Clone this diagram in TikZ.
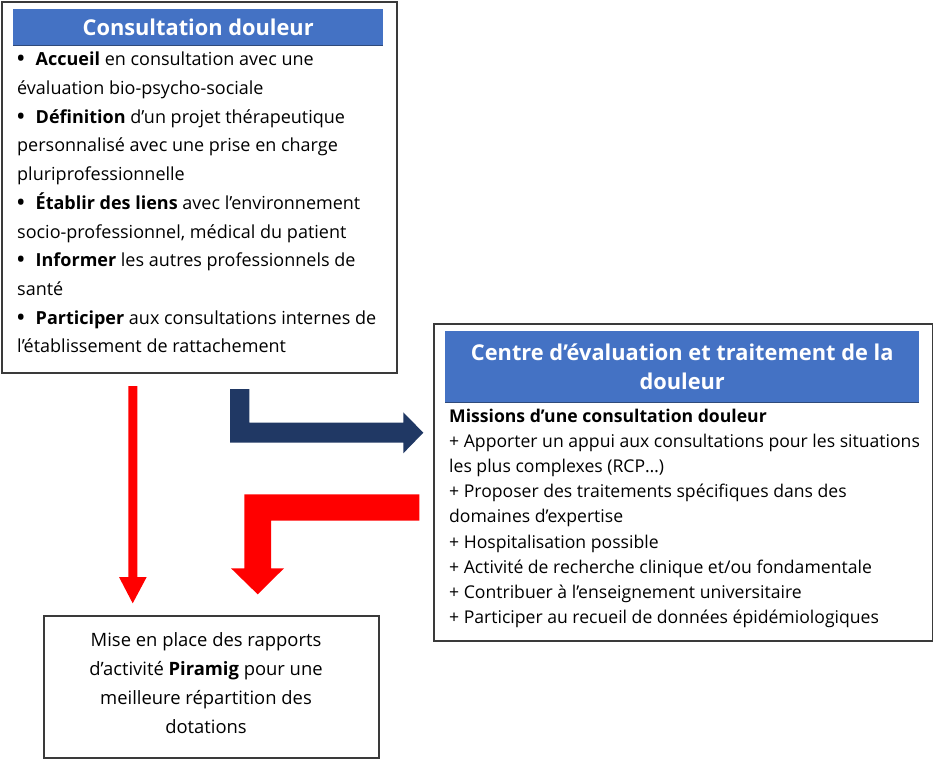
\documentclass[tikz,border=0pt]{standalone}
\usepackage{fontspec}
\setmainfont{Open Sans}
\definecolor{hdrblue}{HTML}{4472C4}
\definecolor{hdredge}{HTML}{2F4A7A}
\definecolor{navyarrow}{HTML}{203864}
\definecolor{boxgray}{HTML}{3A3A3A}
\definecolor{redarrow}{HTML}{FF0000}
\newcommand{\bul}{\makebox[18.5pt][l]{\textbf{\fontsize{20}{0}\selectfont •}}}
\tikzset{
  outerbox/.style={draw=boxgray, line width=1.6pt, fill=white, anchor=north west, inner sep=0pt},
  hdrbox/.style={fill=hdrblue, text=white, anchor=north west, inner sep=0pt, align=center, font=\bfseries\fontsize{21.8}{28.7}\selectfont},
  bodytext/.style={anchor=north west, inner sep=0pt, align=left},
}
\begin{document}
\begin{tikzpicture}[x=1pt,y=-1pt]
\useasboundingbox (0,0) rectangle (933,759);
% Box 1
\node[outerbox, minimum width=395pt, minimum height=371pt] (box1) at (1,1) {};
\node[hdrbox, minimum width=370pt, minimum height=36pt] (h1) at (13,9) {Consultation douleur};
\draw[hdredge, line width=1pt] (h1.south west) -- (h1.south east);
\node[bodytext, font=\fontsize{18}{28.7}\selectfont] (b1) at (17,52) {%
\bul\textbf{Accueil} en consultation avec une\\
évaluation bio-psycho-sociale\\
\bul\textbf{Définition} d’un projet thérapeutique\\
personnalisé avec une prise en charge\\
pluriprofessionnelle\\
\bul\textbf{Établir des liens} avec l’environnement\\
socio-professionnel, médical du patient\\
\bul\textbf{Informer} les autres professionnels de\\
santé\\
\bul\textbf{Participer} aux consultations internes de\\
l’établissement de rattachement};
% Box 2
\node[outerbox, minimum width=499pt, minimum height=317pt] (box2) at (433,323) {};
\node[hdrbox, minimum width=474pt, minimum height=71pt] (h2) at (445,331) {Centre d’évaluation et traitement de la\\douleur};
\draw[hdredge, line width=1pt] (h2.south west) -- (h2.south east);
\node[bodytext, font=\fontsize{17.6}{25.1}\selectfont] (b2) at (449,409) {%
\textbf{Missions d’une consultation douleur}\\
+ Apporter un appui aux consultations pour les situations\\
les plus complexes (RCP…)\\
+ Proposer des traitements spécifiques dans des\\
domaines d’expertise\\
+ Hospitalisation possible\\
+ Activité de recherche clinique et/ou fondamentale\\
+ Contribuer à l’enseignement universitaire\\
+ Participer au recueil de données épidémiologiques};
% Box 3
\node[outerbox, minimum width=335pt, minimum height=142pt] (box3) at (43,615) {};
\node[anchor=north, inner sep=0pt, align=center, font=\fontsize{18.4}{29}\selectfont] (b3) at (206,632) {%
Mise en place des rapports\\
d’activité \textbf{Piramig} pour une\\
meilleure répartition des\\
dotations};
% Arrows
\fill[redarrow] (128.3,386) -- (137.3,386) -- (137.3,577) -- (146.7,577) -- (132.7,603.3) -- (119,577) -- (128.3,577) -- cycle;
\fill[navyarrow] (230,389) -- (249.3,389) -- (249.3,422.7) -- (403.3,422.7) -- (403.3,412.3) -- (423.3,432.7) -- (403.3,453.3) -- (403.3,442.7) -- (230,442.7) -- cycle;
\fill[redarrow] (419.3,494.3) -- (419.3,520.7) -- (271,520.7) -- (271,568.3) -- (284,568.3) -- (257.7,594.3) -- (231,568.3) -- (244.3,568.3) -- (244.3,494.3) -- cycle;
\end{tikzpicture}
\end{document}
